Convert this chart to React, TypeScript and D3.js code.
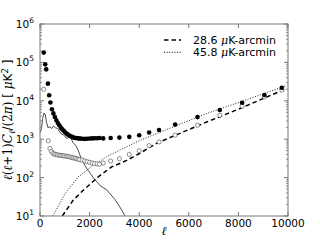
import React from 'react';
import * as d3 from 'd3';

const W = 320;
const H = 240;
const margin = { top: 24, right: 32, bottom: 24, left: 40 };

// axis ticks
const xTicks = [0, 2000, 4000, 6000, 8000, 10000];
const yTickExps = [1, 2, 3, 4, 5, 6];
const legendLabels = ['28.6', '45.8'];

// filled circles (one bandpower per point)
const filledEll = [150, 210, 250, 320, 370, 420, 480, 540, 600, 660, 720, 780, 840, 900, 960, 1020, 1080, 1140, 1200, 1260, 1320, 1380, 1440, 1500, 1560, 1620, 1700, 1800, 1900, 2000, 2100, 2200, 2300, 2400, 2550, 2850, 3200, 3600, 4000, 4400, 4800, 5450, 6350, 7250, 8150, 9050, 9750];
const filledPower = [180000, 89000, 66000, 28000, 14000, 9000, 6000, 4700, 3800, 3100, 2650, 2300, 2000, 1800, 1650, 1500, 1380, 1300, 1230, 1180, 1130, 1090, 1070, 1060, 1050, 1040, 1030, 1020, 1030, 1040, 1050, 1060, 1060, 1070, 1050, 1070, 1100, 1150, 1270, 1500, 1740, 2400, 3760, 5750, 8900, 14100, 21900];

// open circles
const openEll = [150, 335, 400, 460, 520, 580, 640, 700, 760, 820, 880, 940, 1000, 1060, 1120, 1180, 1240, 1300, 1360, 1420, 1480, 1540, 1600, 1700, 1800, 1900, 2000, 2100, 2200, 2300, 2400, 2550, 2850, 3200, 3600, 4000, 4400, 4800, 5450, 6350, 7250, 8150, 9050, 9750];
const openPower = [20000, 910, 575, 480, 430, 410, 400, 390, 385, 380, 375, 370, 365, 360, 355, 350, 340, 330, 325, 320, 310, 300, 295, 285, 270, 260, 250, 240, 232, 228, 224, 240, 270, 310, 400, 500, 680, 850, 1270, 2300, 4200, 7250, 12600, 19000];

// thin solid curve
const solidEll = [10, 60, 110, 160, 210, 260, 320, 400, 470, 540, 620, 700, 760, 840, 940, 1000, 1060, 1150, 1210, 1280, 1350, 1450, 1546, 1680, 1880, 2150, 2420, 2690, 2820, 3024, 3226, 3427];
const solidPower = [1500, 1900, 3500, 4800, 4500, 2800, 2000, 2100, 1900, 2200, 2000, 1900, 1700, 1400, 1300, 1200, 1050, 1100, 1300, 950, 780, 680, 500, 290, 175, 100, 62, 48, 38, 27, 17, 10];

// noise curves
const dashedEll = [900, 1344, 1746, 2350, 2890, 3495, 4030, 4700, 5375, 6720, 8065, 9950];
const dashedPower = [10, 26, 47, 105, 190, 280, 430, 780, 1200, 2800, 6300, 21000];
const dottedEll = [520, 1008, 1544, 2150, 2690, 3360, 4032, 4705, 5375, 6720, 8065, 9950];
const dottedPower = [10, 38, 105, 210, 350, 575, 935, 1400, 2100, 4650, 9300, 25000];

const x = d3.scaleLinear().domain([0, 10000]).range([margin.left, W - margin.right]);
const y = d3.scaleLog().domain([10, 1e6]).range([H - margin.bottom, margin.top]);

const line = d3.line<[number, number]>()
  .x(d => x(d[0]))
  .y(d => y(d[1]));

const zip = (a: number[], b: number[]) => a.map((v, i) => [v, b[i]] as [number, number]);

const App = () => {
  const x0 = x.range()[0], x1 = x.range()[1];
  const y0 = y.range()[0], y1 = y.range()[1];
  const minor: number[] = [];
  for (let e = 1; e < 6; e++) for (let m = 2; m < 10; m++) minor.push(m * Math.pow(10, e));
  const axisColor = '#777';
  const sans = 'DejaVu Sans, sans-serif';
  const serif = 'DejaVu Serif, serif';

  return (
    <svg width={W} height={H} style={{ position: 'fixed', left: 0, top: 0, background: '#fff' }}>
      <defs>
        <clipPath id="plot">
          <rect x={x0} y={y1} width={x1 - x0} height={y0 - y1} />
        </clipPath>
      </defs>

      <g clipPath="url(#plot)">
        <path d={line(zip(solidEll, solidPower)) || ''} fill="none" stroke="#000" strokeWidth={0.7} />
        <path d={line(zip(dottedEll, dottedPower)) || ''} fill="none" stroke="#222" strokeWidth={1} strokeDasharray="1,1.6" />
        <path d={line(zip(dashedEll, dashedPower)) || ''} fill="none" stroke="#000" strokeWidth={1.5} strokeDasharray="4.5,3" />
        {openEll.map((l, i) => (
          <circle key={'o' + i} cx={x(l)} cy={y(openPower[i])} r={2.1} fill="#fff" stroke="#444" strokeWidth={0.6} />
        ))}
        {filledEll.map((l, i) => (
          <circle key={'f' + i} cx={x(l)} cy={y(filledPower[i])} r={2.3} fill="#000" />
        ))}
      </g>

      {/* frame */}
      <rect x={x0} y={y1} width={x1 - x0} height={y0 - y1} fill="none" stroke={axisColor} strokeWidth={1} />

      {/* x ticks */}
      {xTicks.map(t => (
        <g key={'xt' + t}>
          <line x1={x(t)} x2={x(t)} y1={y0} y2={y0 - 4} stroke={axisColor} />
          <line x1={x(t)} x2={x(t)} y1={y1} y2={y1 + 4} stroke={axisColor} />
          <text x={x(t)} y={y0 + 11} textAnchor="middle" fontSize={10.5} fontFamily={sans} fill="#000">{t}</text>
        </g>
      ))}

      {/* y ticks */}
      {yTickExps.map(e => {
        const v = Math.pow(10, e);
        return (
          <g key={'yt' + e}>
            <line x1={x0} x2={x0 + 4} y1={y(v)} y2={y(v)} stroke={axisColor} />
            <line x1={x1} x2={x1 - 4} y1={y(v)} y2={y(v)} stroke={axisColor} />
            <text x={34} y={y(v) + 4} textAnchor="end" fontSize={10.5} fontFamily={sans} fill="#000">
              10<tspan fontSize={7.5} dy={-5}>{e}</tspan>
            </text>
          </g>
        );
      })}
      {minor.map((v, i) => (
        <g key={'ym' + i}>
          <line x1={x0} x2={x0 + 2} y1={y(v)} y2={y(v)} stroke={axisColor} strokeWidth={0.8} />
          <line x1={x1} x2={x1 - 2} y1={y(v)} y2={y(v)} stroke={axisColor} strokeWidth={0.8} />
        </g>
      ))}

      {/* axis labels */}
      <text x={(x0 + x1) / 2} y={235} textAnchor="middle" fontSize={12} fontFamily={serif} fontStyle="italic" fill="#000">ℓ</text>
      <text transform={`translate(12,${(y0 + y1) / 2}) rotate(-90)`} textAnchor="middle" fontSize={12} fontFamily={serif} fill="#000">
        <tspan fontStyle="italic">ℓ</tspan>(<tspan fontStyle="italic">ℓ</tspan>+1)<tspan fontStyle="italic">C</tspan>
        <tspan fontStyle="italic" fontSize={8.5} dy={3}>ℓ</tspan>
        <tspan dy={-3}>/(2</tspan><tspan fontStyle="italic">π</tspan>)
        <tspan fontFamily={sans}> [ </tspan><tspan fontStyle="italic">μ</tspan><tspan fontFamily={sans}>K</tspan>
        <tspan fontFamily={sans} fontSize={8.5} dy={-4}>2</tspan><tspan fontFamily={sans} dy={4}> ]</tspan>
      </text>

      {/* legend */}
      {legendLabels.map((lab, i) => {
        const ly = 40 + i * 12.3;
        return (
          <g key={'lg' + i}>
            <line x1={164} x2={181} y1={ly} y2={ly} stroke="#000"
              strokeWidth={i === 0 ? 1.5 : 1} strokeDasharray={i === 0 ? '4.5,3' : '1,1.6'} />
            <text x={193} y={ly + 4} fontSize={11} fontFamily={sans} fill="#000">
              {lab} <tspan fontFamily={serif} fontStyle="italic">μ</tspan>K-arcmin
            </text>
          </g>
        );
      })}
    </svg>
  );
};

export default App;
